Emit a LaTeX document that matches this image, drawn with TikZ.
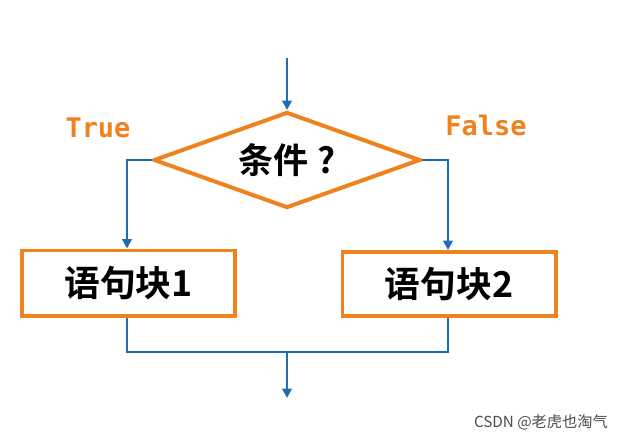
\documentclass[tikz,border=0pt]{standalone}
\usepackage{fontspec}
\newfontfamily\cjk{Noto Sans CJK SC}[BoldFont={* Bold}]
\newfontfamily\mono{DejaVu Sans Mono}
\usetikzlibrary{shapes.geometric,arrows.meta}
\definecolor{lb}{HTML}{1F6EB4}
\definecolor{lo}{HTML}{F0821E}
\begin{document}
\begin{tikzpicture}[x=0.03cm,y=-0.03cm,
  box/.style={draw=lo,line width=3.4pt,minimum width=6.39cm,minimum height=1.95cm,font=\cjk\bfseries\fontsize{30.5}{34}\selectfont},
  flow/.style={draw=lb,line width=2.5pt},
  arr/.style={flow,-{Triangle[length=8pt,width=8pt]}},
  lab/.style={text=lo,font=\mono\bfseries\fontsize{23}{27}\selectfont}]
\useasboundingbox (0,0) rectangle (617,439);
\fill[white] (0,0) rectangle (617,439);
\node[draw=lo,line width=3.4pt,diamond,aspect=2.78,minimum width=8.0cm,minimum height=2.88cm,inner sep=0pt,font=\cjk\bfseries\fontsize{30}{34}\selectfont] (c) at (287,160) {条件 ?};
\node[box] (b1) at (128.5,283) {语句块1};
\node[box,minimum height=1.92cm] (b2) at (449,284) {语句块2};
\coordinate (top) at (287,58);
\coordinate (m) at (287,352);
\coordinate (end) at (287,398);
\node[lab] (t) at (98,128) {True};
\node[lab] (f) at (486,125) {False};
\draw[arr] (top) -- (c.north);
\draw[arr] (c.west) -- (127,160) -- (b1.north -| 127,0);
\draw[arr] (c.east) -- (448,160) -- (b2.north -| 448,0);
\draw[flow] (b1.south -| 127,0) -- (127,352) -- (448,352) -- (b2.south -| 448,0);
\draw[arr] (m) -- (end);
\node[anchor=east,text=black!70,font=\cjk\fontsize{13}{15}\selectfont] (w) at (612,422) {CSDN @老虎也淘气};
\end{tikzpicture}
\end{document}
